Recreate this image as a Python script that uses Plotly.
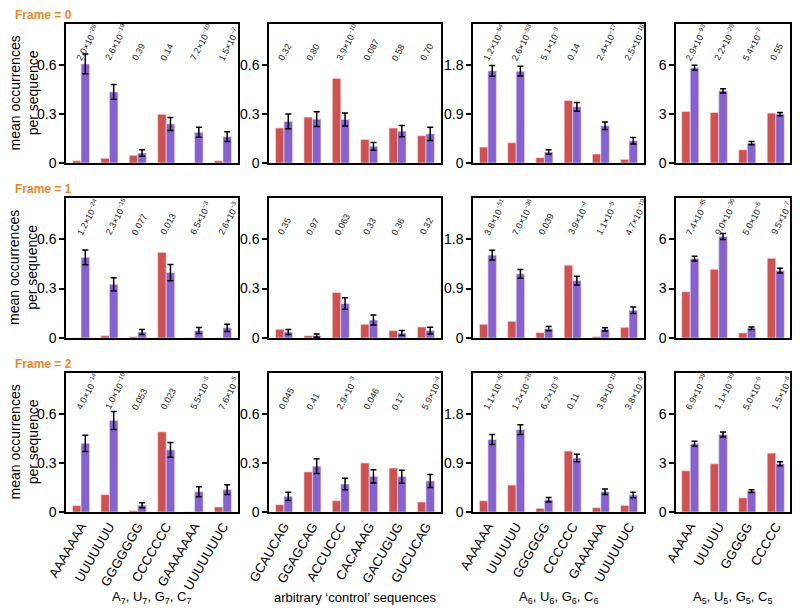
import plotly.graph_objects as go

# ---------------- data ----------------
cats_A7 = ["AAAAAAA", "UUUUUUU", "GGGGGGG", "CCCCCCC", "GAAAAAAA", "UUUUUUUC"]
cats_ctrl = ["GCAUCAG", "GGAGCAG", "ACCUCCC", "CACAAAG", "GACUGUG", "GUCUCAG"]
cats_A6 = ["AAAAAA", "UUUUUU", "GGGGGG", "CCCCCC", "GAAAAAA", "UUUUUUC"]
cats_A5 = ["AAAAA", "UUUUU", "GGGGG", "CCCCC"]

# red = expected (control) counts, purple = observed with error bars; rows = frame 0,1,2
A7_red = [[0.014, 0.029, 0.047, 0.298, 0.0, 0.014],
          [0.0, 0.014, 0.008, 0.52, 0.0, 0.0],
          [0.039, 0.106, 0.008, 0.49, 0.0, 0.031]]
A7_purple = [[0.606, 0.435, 0.061, 0.239, 0.188, 0.161],
             [0.49, 0.326, 0.036, 0.397, 0.045, 0.062],
             [0.42, 0.559, 0.041, 0.38, 0.124, 0.137]]
A7_err = [[0.06, 0.045, 0.02, 0.04, 0.03, 0.03],
          [0.045, 0.04, 0.015, 0.05, 0.018, 0.022],
          [0.05, 0.055, 0.015, 0.045, 0.03, 0.03]]

ctrl_red = [[0.214, 0.281, 0.517, 0.144, 0.214, 0.167],
            [0.053, 0.014, 0.276, 0.083, 0.045, 0.067],
            [0.045, 0.245, 0.069, 0.3, 0.269, 0.061]]
ctrl_purple = [[0.254, 0.268, 0.266, 0.102, 0.195, 0.178],
               [0.036, 0.014, 0.209, 0.109, 0.03, 0.045],
               [0.096, 0.28, 0.171, 0.218, 0.216, 0.19]]
ctrl_err = [[0.045, 0.045, 0.04, 0.024, 0.035, 0.04],
            [0.015, 0.01, 0.035, 0.03, 0.015, 0.02],
            [0.025, 0.045, 0.035, 0.04, 0.04, 0.04]]

A6_red = [[0.293, 0.372, 0.098, 1.147, 0.165, 0.067],
          [0.25, 0.304, 0.097, 1.326, 0.024, 0.195],
          [0.207, 0.494, 0.067, 1.117, 0.079, 0.122]]
A6_purple = [[1.69, 1.684, 0.201, 1.031, 0.683, 0.409],
             [1.51, 1.168, 0.17, 1.046, 0.158, 0.505],
             [1.33, 1.51, 0.225, 0.99, 0.372, 0.312]]
A6_err = [[0.1, 0.09, 0.04, 0.08, 0.07, 0.06],
          [0.09, 0.08, 0.04, 0.08, 0.03, 0.06],
          [0.09, 0.09, 0.04, 0.07, 0.05, 0.05]]

A5_red = [[3.15, 3.09, 0.81, 3.05],
          [2.81, 4.17, 0.31, 4.84],
          [2.52, 2.95, 0.87, 3.6]]
A5_purple = [[5.82, 4.41, 1.22, 2.99],
             [4.82, 6.16, 0.59, 4.09],
             [4.17, 4.74, 1.28, 2.95]]
A5_err = [[0.15, 0.13, 0.1, 0.1],
          [0.15, 0.18, 0.08, 0.15],
          [0.15, 0.15, 0.08, 0.12]]


def sci(m, e):
    return f"{m}×10<sup>−{e}</sup>"


A7_p = [[sci("2.0", 26), sci("2.6", 19), "0.39", "0.14", sci("7.2", 10), sci("1.5", 7)],
        [sci("1.2", 24), sci("2.3", 15), "0.077", "0.013", sci("6.5", 3), sci("2.6", 3)],
        [sci("4.0", 14), sci("1.0", 16), "0.053", "0.023", sci("5.5", 6), sci("7.6", 5)]]
ctrl_p = [["0.32", "0.80", sci("3.9", 10), "0.087", "0.58", "0.70"],
          ["0.35", "0.97", "0.063", "0.33", "0.36", "0.32"],
          ["0.045", "0.41", sci("2.9", 3), "0.046", "0.17", sci("5.9", 4)]]
A6_p = [[sci("1.2", 54), sci("2.6", 53), sci("5.1", 3), "0.14", sci("2.4", 17), sci("2.5", 16)],
        [sci("3.8", 51), sci("7.0", 36), "0.039", sci("3.9", 4), sci("1.1", 5), sci("4.7", 10)],
        [sci("1.1", 40), sci("1.2", 28), sci("6.2", 5), "0.11", sci("3.8", 10), sci("3.8", 5)]]
A5_p = [[sci("2.9", 93), sci("2.2", 26), sci("5.4", 7), "0.55"],
        [sci("7.4", 45), sci("9.0", 36), sci("5.0", 5), sci("9.5", 7)],
        [sci("6.9", 39), sci("1.1", 30), sci("5.0", 6), sci("1.5", 6)]]

col_titles = ["A<sub>7</sub>, U<sub>7</sub>, G<sub>7</sub>, C<sub>7</sub>",
              "arbitrary ‘control’ sequences",
              "A<sub>6</sub>, U<sub>6</sub>, G<sub>6</sub>, C<sub>6</sub>",
              "A<sub>5</sub>, U<sub>5</sub>, G<sub>5</sub>, C<sub>5</sub>"]
frame_labels = ["Frame = 0", "Frame = 1", "Frame = 2"]

yranges = [0.85, 0.85, 2.55, 8.5]
ytickvals = [[0, 0.3, 0.6], [0, 0.3, 0.6], [0, 0.9, 1.8], [0, 3, 6]]
yticktext = [["0", "0.3", "0.6"], ["0", "0.3", "0.6"], ["0", "0.9", "1.8"], ["0", "3", "6"]]

columns = [
    (cats_A7, A7_red, A7_purple, A7_err, A7_p),
    (cats_ctrl, ctrl_red, ctrl_purple, ctrl_err, ctrl_p),
    (cats_A6, A6_red, A6_purple, A6_err, A6_p),
    (cats_A5, A5_red, A5_purple, A5_err, A5_p),
]

# ---------------- layout geometry (window pixels) ----------------
# the page body has an 8px default margin, so the figure is drawn 8px smaller and offset
OFF = 8
W, H = 800 - OFF, 614 - OFF
col_px = [(66, 238), (269, 441), (473, 644), (676, 790)]
row_px = [(24, 163), (198, 338), (373, 512)]


def px_x(p):
    return (p - OFF) / W


def px_y(p):
    return 1 - (p - OFF) / H


RED = "#cf5252"
PURPLE = "#8663cc"
FONT = "Liberation Sans, Arial, Helvetica, sans-serif"

fig = go.Figure()
annotations = []
layout = {}

for r in range(3):
    for c in range(4):
        k = r * 4 + c + 1
        xa = "x" if k == 1 else f"x{k}"
        ya = "y" if k == 1 else f"y{k}"
        cats, red, purple, err, pv = columns[c]
        n = len(cats)
        xs = list(range(n))
        fig.add_trace(go.Bar(x=xs, y=red[r], marker=dict(color=RED, line=dict(color="rgba(255,220,220,0.8)", width=0.8)),
                             xaxis=xa, yaxis=ya, showlegend=False, offsetgroup="a"))
        fig.add_trace(go.Bar(x=xs, y=purple[r],
                             marker=dict(color=PURPLE, line=dict(color="rgba(230,220,255,0.8)", width=0.8)),
                             error_y=dict(type="data", array=err[r], color="black", thickness=1.5, width=3),
                             xaxis=xa, yaxis=ya, showlegend=False, offsetgroup="b"))
        x0, x1 = col_px[c]
        y0, y1 = row_px[r]
        xr = [-0.53, n - 1 + 0.53] if n == 6 else [-0.5, n - 1 + 0.5]
        xkey = "xaxis" if k == 1 else f"xaxis{k}"
        ykey = "yaxis" if k == 1 else f"yaxis{k}"
        layout[xkey] = dict(domain=[px_x(x0), px_x(x1)], anchor=ya, range=xr, automargin=False,
                            tickmode="array", tickvals=xs, ticktext=cats,
                            showticklabels=(r == 2), tickangle=-60,
                            ticks="", showline=True, linecolor="black", linewidth=1.5,
                            mirror=True, showgrid=False, zeroline=False,
                            tickfont=dict(size=13, color="black", family=FONT))
        layout[ykey] = dict(domain=[px_y(y1), px_y(y0)], anchor=xa, range=[0, yranges[c]],
                            automargin=False,
                            tickmode="array", tickvals=ytickvals[c], ticktext=yticktext[c],
                            ticks="outside", ticklen=5, tickwidth=1.5, tickcolor="black",
                            showline=True, linecolor="black", linewidth=1.5, mirror=True,
                            showgrid=False, zeroline=False,
                            tickfont=dict(size=14, color="black", family=FONT))
        for i in range(n):
            annotations.append(dict(x=i - 0.37, y=0.705, xref=xa, yref=f"{ya} domain",
                                    text=pv[r][i], showarrow=False, textangle=-62,
                                    xanchor="left", yanchor="bottom",
                                    font=dict(size=9, color="#222", family=FONT)))

# frame labels and y-axis titles
for r, lab in enumerate(frame_labels):
    annotations.append(dict(x=px_x(13), y=px_y(row_px[r][0] - 9), xref="paper", yref="paper",
                            text=f"<b>{lab}</b>", showarrow=False, xanchor="left", yanchor="middle",
                            font=dict(size=12, color="#f5821f", family=FONT)))
    yc = (row_px[r][0] + row_px[r][1]) / 2
    annotations.append(dict(x=px_x(23), y=px_y(yc), xref="paper", yref="paper",
                            text="mean occurrences<br>per sequence", showarrow=False,
                            textangle=-90, xanchor="center", yanchor="middle",
                            font=dict(size=14, color="black", family=FONT)))

# column titles
for c, t in enumerate(col_titles):
    xc = (col_px[c][0] + col_px[c][1]) / 2
    annotations.append(dict(x=px_x(xc), y=px_y(597), xref="paper", yref="paper", text=t,
                            showarrow=False, xanchor="center", yanchor="middle",
                            font=dict(size=13, color="black", family=FONT)))

fig.update_layout(width=W, height=H, margin=dict(l=0, r=0, t=0, b=0),
                  plot_bgcolor="white", paper_bgcolor="white",
                  barmode="group", bargap=0.4, bargroupgap=0,
                  annotations=annotations, **layout)

fig.write_html("out.html")
